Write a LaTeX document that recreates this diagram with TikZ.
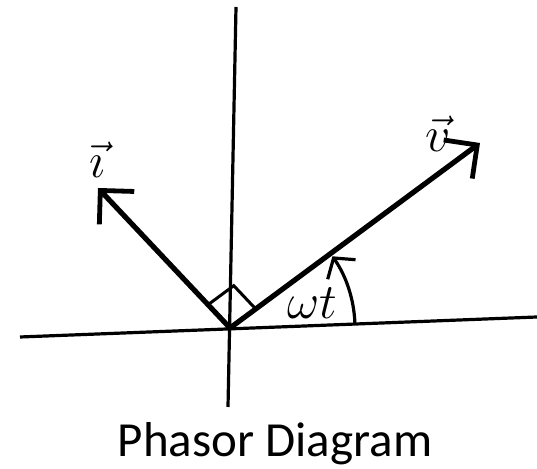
\documentclass[tikz,border=0pt]{standalone}
\usepackage{fontspec}
\setmainfont{Carlito}
\usetikzlibrary{arrows.meta,calc}
\begin{document}
\begin{tikzpicture}[x=0.5pt,y=-0.5pt,
  axis/.style={line width=1.6pt},
  phasor/.style={line width=2.6pt,line cap=round,-{Straight Barb[length=12pt,width=24pt,line width=2.4pt]}},
  rightmark/.style={line width=1.5pt},
  anglearc/.style={line width=1.6pt,-{Straight Barb[length=7pt,width=17pt,line width=1.6pt]}},
  vlabel/.style={font=\fontsize{24}{28}\selectfont},
  caption/.style={font=\fontsize{24.5}{30}\selectfont}]
\useasboundingbox (0,0) rectangle (537,469);
\coordinate (O) at (230,328);
\coordinate (xl) at (20,337);
\coordinate (xr) at (537,317);
\coordinate (yt) at (236,7);
\coordinate (yb) at (228,407);
\draw[axis] (xl) -- (xr);
\draw[axis] (yt) -- (yb);
\coordinate (Ti) at (98,188);
\coordinate (Tv) at (480,143);
\draw[phasor] (O) -- (Ti);
\draw[phasor] (O) -- (Tv);
\coordinate (ri) at ($(O)!16pt!(Ti)$);
\coordinate (rv) at ($(O)!16pt!(Tv)$);
\draw[rightmark] (ri) -- ($(ri)+(rv)-(O)$) -- (rv);
\coordinate (arcstart) at ($(O)+(2.2:62.5pt)$);
\draw[anglearc] (arcstart) arc[start angle=2.2, end angle=35, radius=62.5pt];
\node[vlabel] (li) at (97,160) {$\vec{\imath}$};
\node[vlabel] (lv) at (438,134) {$\vec{v}$};
\node[vlabel] (wt) at (312,303) {$\omega t$};
\node[caption] (cap) at (275,444) {Phasor Diagram};
\end{tikzpicture}
\end{document}
